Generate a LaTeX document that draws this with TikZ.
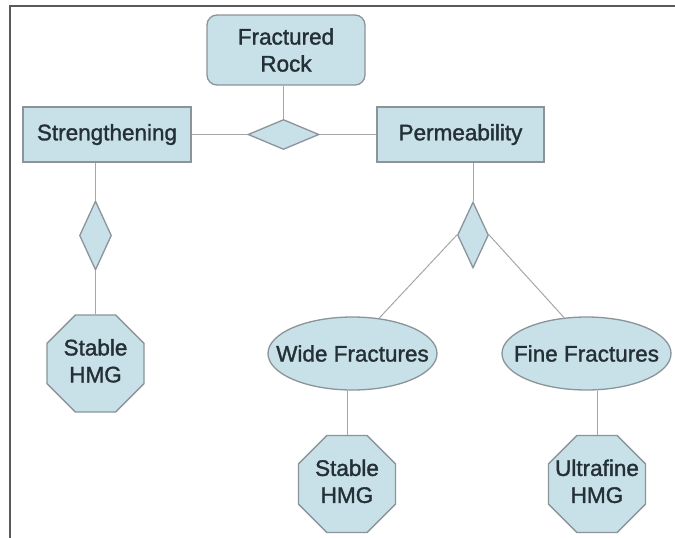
\documentclass[tikz,border=0pt]{standalone}
\usepackage{fontspec}
\setmainfont[FakeBold=1.4]{Liberation Sans}
\usetikzlibrary{shapes.geometric}
\definecolor{boxfill}{HTML}{C8E0E8}
\definecolor{boxline}{HTML}{8A9499}
\definecolor{linkline}{HTML}{A3A7A9}
\definecolor{txt}{HTML}{243036}
\definecolor{framec}{HTML}{5A5A5A}
\newcommand{\twolines}[2]{\makebox[0pt]{\begin{tabular}{@{}c@{}}#1\\#2\end{tabular}}}
\tikzset{
  base/.style={fill=boxfill, draw=boxline, line width=1.3pt, text=txt,
    font=\fontsize{22.5}{27}\selectfont, align=center, inner sep=0pt},
  rectbox/.style={base, rectangle, minimum height=55pt},
  roundbox/.style={base, rectangle, rounded corners=10pt, minimum width=158pt, minimum height=70pt},
  relbox/.style={base, diamond},
  octbox/.style={base, regular polygon, regular polygon sides=8, minimum size=105pt},
  ellbox/.style={base, ellipse, minimum width=169pt, minimum height=73pt},
  link/.style={draw=linkline, line width=1pt},
  framel/.style={draw=framec, line width=2pt}
}
\begin{document}
\begin{tikzpicture}[x=1pt, y=-1pt]
\useasboundingbox (0,0) rectangle (675,538);
\coordinate (fbl) at (9.5,538);
\coordinate (ftl) at (9.5,6);
\coordinate (ftr) at (675,6);
\draw[framel] (fbl) -- (ftl) -- (ftr);

\node[roundbox] (fr) at (286,50) {Fractured\\Rock};
\node[rectbox, minimum width=168pt] (st) at (107,134.5) {Strengthening};
\node[rectbox, minimum width=167pt] (pe) at (460.5,134.5) {Permeability};
\node[relbox, minimum width=71pt, minimum height=30pt] (cd) at (283.5,134.5) {};
\node[relbox, minimum width=32pt, minimum height=69pt] (sd) at (95.5,235.5) {};
\node[relbox, minimum width=31pt, minimum height=66pt] (pd) at (473,235) {};
\node[octbox] (so) at (95.5,363.5) {\twolines{Stable}{HMG}};
\node[ellbox] (wf) at (352.5,353.5) {\makebox[0pt]{Wide Fractures}};
\node[ellbox] (ff) at (586.5,353.5) {\makebox[0pt]{Fine Fractures}};
\node[octbox] (wo) at (347,484) {\twolines{Stable}{HMG}};
\node[octbox] (uo) at (597,484) {\twolines{Ultrafine}{HMG}};

\draw[link] (cd.north) -- (cd.north |- fr.south);
\draw[link] (st.east) -- (cd.west);
\draw[link] (cd.east) -- (pe.west);
\draw[link] (sd.north) -- (sd.north |- st.south);
\draw[link] (sd.south) -- (so.north);
\draw[link] (pd.north) -- (pd.north |- pe.south);
\draw[link] (pd.west) -- (wf.53);
\draw[link] (pd.east) -- (ff.122);
\draw[link] (wo.north) -- (wo.north |- wf.south);
\draw[link] (uo.north) -- (uo.north |- ff.south);
\end{tikzpicture}
\end{document}
